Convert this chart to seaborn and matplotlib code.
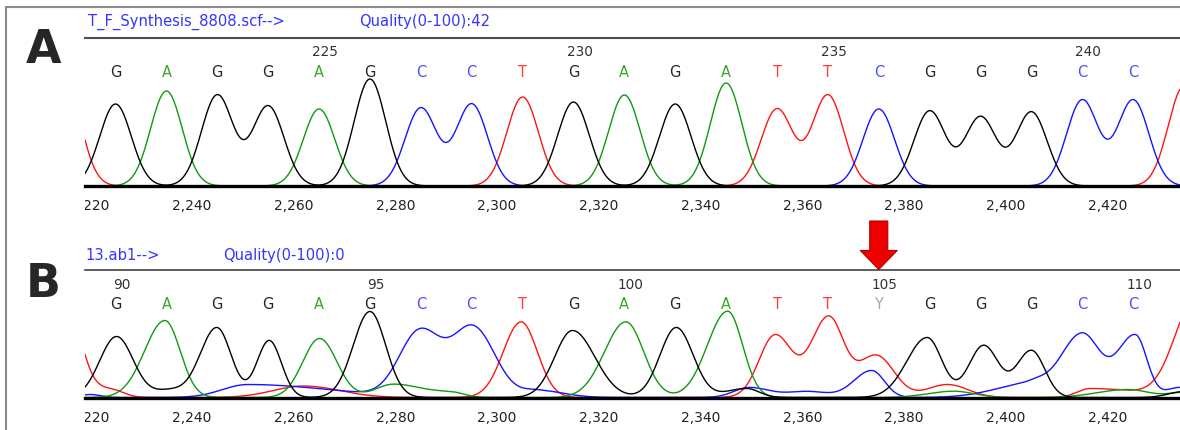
import numpy as np
import pandas as pd
import matplotlib
matplotlib.use("Agg")
import matplotlib.pyplot as plt
import seaborn as sns
from matplotlib.lines import Line2D
from matplotlib.transforms import Bbox, TransformedBbox

# ------------------------------------------------------------------ data
X_RANGE = (2219.0, 2434.2)
X_TICKS = [2220, 2240, 2260, 2280, 2300, 2320, 2340, 2360, 2380, 2400, 2420]
X_TICK_LABELS = ["2,220", "2,240", "2,260", "2,280", "2,300", "2,320",
                 "2,340", "2,360", "2,380", "2,400", "2,420"]

BASE_POS = [2225, 2235, 2245, 2255, 2265, 2275, 2285, 2295, 2305, 2315, 2325,
            2335, 2345, 2355, 2365, 2375, 2385, 2395, 2405, 2415, 2425, 2435]
A_CALLS = ["G", "A", "G", "G", "A", "G", "C", "C", "T", "G", "A",
           "G", "A", "T", "T", "C", "G", "G", "G", "C", "C", "T"]
B_CALLS = ["G", "A", "G", "G", "A", "G", "C", "C", "T", "G", "A",
           "G", "A", "T", "T", "Y", "G", "G", "G", "C", "C", "T"]
A_FIRST_NUMBER = 221
B_FIRST_NUMBER = 90

A_FILE = "T_F_Synthesis_8808.scf-->"
A_QUALITY = "Quality(0-100):42"
B_FILE = "13.ab1-->"
B_QUALITY = "Quality(0-100):0"

# trace peaks: (scan position, height, left width, right width)
A_PEAKS_G = [(2225, 82, 3.1, 3.1), (2245, 91, 3.1, 3.1), (2255, 80, 3.1, 3.1),
             (2275, 107, 3.1, 3.1), (2315, 84, 3.1, 3.1), (2335, 82, 3.1, 3.1),
             (2385, 75, 3.1, 3.1), (2395, 69, 3.1, 3.1), (2405, 74, 3.1, 3.1)]
A_PEAKS_A = [(2235, 95, 3.1, 3.1), (2265, 77, 3.1, 3.1), (2325, 91, 3.1, 3.1),
             (2345, 103, 3.1, 3.1)]
A_PEAKS_C = [(2285, 78, 3.1, 3.1), (2295, 82, 3.1, 3.1), (2375, 77, 3.1, 3.1),
             (2415, 86, 3.1, 3.1), (2425, 86, 3.1, 3.1)]
A_PEAKS_T = [(2215, 106, 3.1, 3.1), (2305, 89, 3.1, 3.1), (2355, 77, 3.1, 3.1),
             (2365, 91, 3.1, 3.1), (2435, 100, 3.1, 3.1)]

B_PEAKS_G = [(2225.2, 61, 3.3, 3.3), (2235.5, 7, 3.0, 3.0), (2244.9, 70, 3.3, 2.8),
             (2255.2, 57, 2.4, 2.4), (2275.0, 86, 3.3, 3.1), (2314.8, 67, 3.5, 4.4),
             (2335.2, 70, 3.2, 3.3), (2349.0, 9, 4.0, 2.5), (2384.5, 60, 4.0, 2.9),
             (2395.6, 52, 2.9, 2.9), (2405.0, 47, 2.9, 2.6), (2435.0, 6, 3.0, 3.0)]
B_PEAKS_A = [(2234.7, 77, 4.0, 3.0), (2265.1, 59, 3.3, 3.4), (2279.5, 13, 3.5, 5.0),
             (2291.0, 5, 5.0, 2.5), (2325.3, 75.6, 4.2, 3.5), (2345.3, 86.3, 4.0, 2.95),
             (2389.7, 6.3, 5.0, 4.0), (2424.0, 8, 6.0, 4.0), (2435.0, 5, 3.0, 3.0)]
B_PEAKS_C = [(2220.0, 3, 2.0, 2.0), (2251.0, 13, 5.0, 16.0), (2284.8, 65, 4.0, 4.1),
             (2295.3, 69.6, 4.1, 4.3), (2308.0, 7, 3.0, 5.0), (2349.5, 10, 3.0, 4.0),
             (2361.0, 6, 4.0, 4.0), (2373.6, 27, 3.5, 2.5), (2405.0, 14, 7.0, 3.0),
             (2414.9, 64, 4.2, 3.5), (2425.4, 62.3, 3.5, 2.3), (2434.0, 10, 2.5, 3.0)]
B_PEAKS_T = [(2215.0, 100, 3.0, 3.0), (2224.0, 8, 3.0, 2.5), (2262.0, 11.5, 6.0, 7.0),
             (2304.7, 75.6, 3.5, 3.2), (2354.6, 62.3, 3.1, 3.4), (2365.1, 80, 3.4, 3.0),
             (2374.5, 42, 3.5, 3.5), (2388.5, 13, 4.0, 4.0), (2416.5, 9, 2.5, 10.0),
             (2437.5, 100, 4.2, 4.2)]

TRACE_COLORS = {"G": "#000000", "A": "#109a10", "C": "#1414ff", "T": "#ff1414"}
CALL_COLORS = {"G": "#262626", "A": "#3fa52e", "C": "#4c4cff", "T": "#ff3c3c", "Y": "#a6a6a6"}


def build_frame(peaks_by_base):
    x = np.linspace(X_RANGE[0] - 1, X_RANGE[1] + 1, 2400)
    rows = []
    for base, peaks in peaks_by_base.items():
        y = np.zeros_like(x)
        for p, h, sl, sr in peaks:
            s = np.where(x < p, sl, sr)
            y += h * np.exp(-0.5 * ((x - p) / s) ** 2)
        rows.append(pd.DataFrame({"scan": x, "signal": y, "base": base}))
    return pd.concat(rows, ignore_index=True)


df_a = build_frame({"G": A_PEAKS_G, "A": A_PEAKS_A, "C": A_PEAKS_C, "T": A_PEAKS_T})
df_b = build_frame({"G": B_PEAKS_G, "A": B_PEAKS_A, "C": B_PEAKS_C, "T": B_PEAKS_T})

# ------------------------------------------------------------------ figure
sns.set_style("white")
plt.rcParams["font.family"] = ["DejaVu Sans"]

W, H = 1180, 430
fig = plt.figure(figsize=(W / 100, H / 100), dpi=100)
fig.patch.set_facecolor("white")


def fx(px):
    return px / W


def fy(py):
    return 1 - py / H


def add_panel(top_px, base_px, df, calls, first_num, let_frac, num_frac, top_color, top_lw):
    ax = fig.add_axes([fx(85), fy(base_px), 1 - fx(85), fy(top_px) - fy(base_px)])
    sns.lineplot(data=df, x="scan", y="signal", hue="base", hue_order=["T", "C", "A", "G"],
                 palette=TRACE_COLORS, estimator=None, sort=False, legend=False,
                 linewidth=1.0, ax=ax)
    ax.set_xlim(*X_RANGE)
    ax.set_ylim(0, base_px - top_px)
    ax.set_xlabel("")
    ax.set_ylabel("")
    ax.set_yticks([])
    ax.set_xticks(X_TICKS)
    ax.set_xticklabels(X_TICK_LABELS)
    ax.tick_params(axis="x", direction="out", length=4.3, width=1.0, color="#8c8c8c",
                   labelsize=10, labelcolor="#222222", pad=5.2)
    for side in ("left", "right"):
        ax.spines[side].set_visible(False)
    ax.spines["bottom"].set_color("#000000")
    ax.spines["bottom"].set_linewidth(2.4)
    ax.spines["top"].set_color(top_color)
    ax.spines["top"].set_linewidth(top_lw)
    ax.set_facecolor("none")
    tr = ax.get_xaxis_transform()
    for i, (pos, call) in enumerate(zip(BASE_POS, calls)):
        ax.text(pos, let_frac, call, transform=tr, ha="center", va="baseline",
                fontsize=10.5, color=CALL_COLORS[call], clip_on=False)
        num = first_num + i
        if num % 5 == 0:
            ax.text(pos + 1.2, num_frac, str(num), transform=tr, ha="center",
                    va="baseline", fontsize=9.8, color="#333333", clip_on=False)
    return ax


ax_a = add_panel(37.7, 186.0, df_a, A_CALLS, A_FIRST_NUMBER, 0.735, 0.877, "#505050", 1.5)
ax_b = add_panel(269.5, 397.5, df_b, B_CALLS, B_FIRST_NUMBER, 0.689, 0.844, "#303030", 1.1)

# headers
hdr_kw = dict(fontsize=10.6, color="#3434ff", ha="left", va="baseline")
fig.text(fx(88), fy(26), A_FILE, **hdr_kw)
fig.text(fx(359), fy(26), A_QUALITY, **hdr_kw)
fig.text(fx(85), fy(260), B_FILE, **hdr_kw)
fig.text(fx(223), fy(260), B_QUALITY, **hdr_kw)

# panel letters
fig.text(fx(44), fy(63), "A", fontsize=33, fontweight="bold", ha="center", va="baseline")
fig.text(fx(43), fy(297), "B", fontsize=33, fontweight="bold", ha="center", va="baseline")

# outer frame (left and top edges)
frame_kw = dict(color="#8a8a8a", linewidth=1.5, transform=fig.transFigure)
fig.add_artist(Line2D([fx(6), fx(6)], [fy(7), 0], **frame_kw))
fig.add_artist(Line2D([fx(6), 1], [fy(7), fy(7)], **frame_kw))

# mutation arrow above the ambiguous call
mut_pos = BASE_POS[B_CALLS.index("Y")]
ax_b.annotate("", xy=(mut_pos, 1.0), xycoords=ax_b.get_xaxis_transform(),
              xytext=(mut_pos, 1.0 + (269.5 - 221.0) / (397.5 - 269.5)),
              textcoords=ax_b.get_xaxis_transform(),
              arrowprops=dict(arrowstyle="simple,head_length=1.37,head_width=2.66,tail_width=1.3",
                              mutation_scale=10, fc="#ee0000", ec="#b00000", lw=0.8,
                              shrinkA=0, shrinkB=0),
              annotation_clip=False)

# clip tick labels at the trace window's left edge (as in the viewer)
fig.canvas.draw()
clip = TransformedBbox(Bbox.from_extents(fx(85), 0, 1, 1), fig.transFigure)
for ax in (ax_a, ax_b):
    for lbl in ax.get_xticklabels():
        lbl.set_clip_box(clip)
        lbl.set_clip_on(True)

fig.savefig("out.png", dpi=100, facecolor="white")
